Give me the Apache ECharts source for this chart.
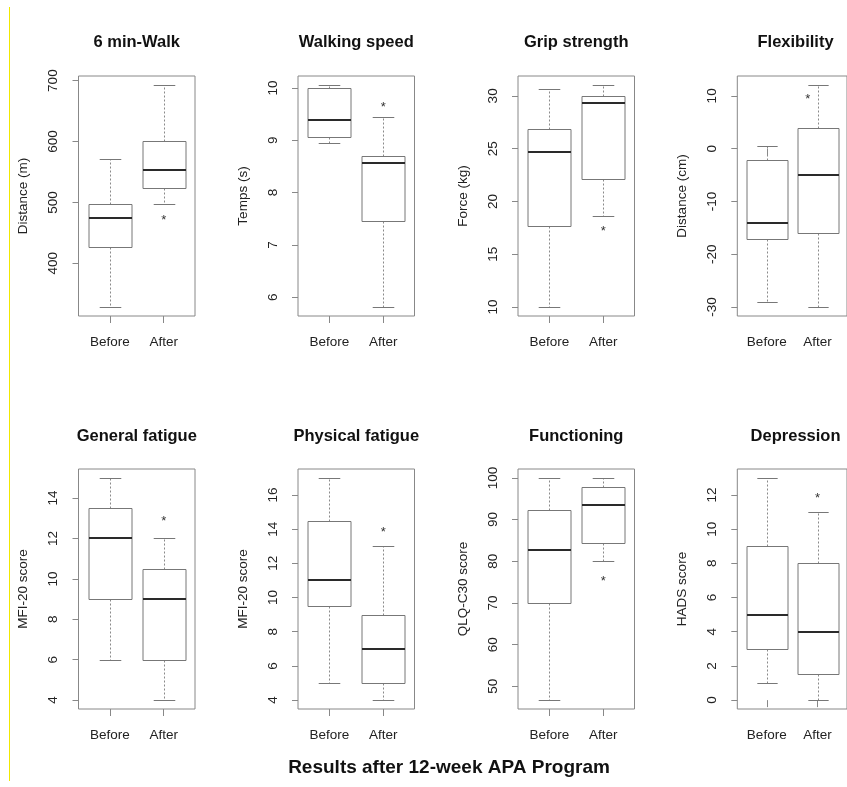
<!DOCTYPE html>
<html>
<head>
<meta charset="utf-8">
<script src="https://cdn.jsdelivr.net/npm/echarts@6/dist/echarts.min.js"></script>
<style>
html,body{margin:0;padding:0;background:#fff;}
#chart{width:847px;height:787px;}
</style>
</head>
<body>
<div id="chart"></div>
<script>
// ---------- data ----------
const categories = ['Before', 'After'];
const panelTitles = ['6 min-Walk', 'Walking speed', 'Grip strength', 'Flexibility',
                     'General fatigue', 'Physical fatigue', 'Functioning', 'Depression'];
const yAxisNames = ['Distance (m)', 'Temps (s)', 'Force (kg)', 'Distance (cm)',
                    'MFI-20 score', 'MFI-20 score', 'QLQ-C30 score', 'HADS score'];
const mainTitle = 'Results after 12-week APA Program';

// box stats: [lower whisker, Q1, median, Q3, upper whisker]
const walkBefore = [328, 427, 474, 498, 571];
const walkAfter = [498, 523.5, 553.6, 601, 693];
const speedBefore = [8.94, 9.07, 9.39, 10.0, 10.06];
const speedAfter = [5.81, 7.45, 8.57, 8.70, 9.45];
const gripBefore = [10, 17.66, 24.67, 26.88, 30.69];
const gripAfter = [18.65, 22.15, 29.34, 30.0, 31.04];
const flexBefore = [-29, -17.1, -14.0, -2.08, 0.5];
const flexAfter = [-30, -16.0, -4.98, 3.98, 12.08];
const genFatBefore = [6, 9, 12, 13.5, 15];
const genFatAfter = [4, 6, 9, 10.5, 12];
const physFatBefore = [5, 9.5, 11, 14.5, 17];
const physFatAfter = [4, 5, 7, 9, 13];
const funcBefore = [46.7, 70, 82.7, 92.2, 100];
const funcAfter = [80, 84.5, 93.4, 97.75, 100];
const deprBefore = [1, 3, 5, 9, 13];
const deprAfter = [0, 1.5, 4, 8, 11];

// outliers: [group (1=Before, 2=After), value]
const walkOutliers = [];
const speedOutliers = [[1, 7.24]];
const gripOutliers = [];
const flexOutliers = [];
const genFatOutliers = [];
const physFatOutliers = [];
const funcOutliers = [];
const deprOutliers = [];

// significance asterisks: [x position, value]
const asterisks = [[2, 475], [2, 9.69], [2, 17.45], [1.81, 9.9],
                   [2, 13], [2, 14], [2, 76], [2, 12]];

// y tick labels
const walkTicks = [400, 500, 600, 700];
const speedTicks = [6, 7, 8, 9, 10];
const gripTicks = [10, 15, 20, 25, 30];
const flexTicks = [-30, -20, -10, 0, 10];
const genFatTicks = [4, 6, 8, 10, 12, 14];
const physFatTicks = [4, 6, 8, 10, 12, 14, 16];
const funcTicks = [50, 60, 70, 80, 90, 100];
const deprTicks = [0, 2, 4, 6, 8, 10, 12];

// ---------- assembly ----------
const boxStats = [[walkBefore, walkAfter], [speedBefore, speedAfter], [gripBefore, gripAfter], [flexBefore, flexAfter],
                  [genFatBefore, genFatAfter], [physFatBefore, physFatAfter], [funcBefore, funcAfter], [deprBefore, deprAfter]];
const outlierSets = [walkOutliers, speedOutliers, gripOutliers, flexOutliers, genFatOutliers, physFatOutliers, funcOutliers, deprOutliers];
const tickSets = [walkTicks, speedTicks, gripTicks, flexTicks, genFatTicks, physFatTicks, funcTicks, deprTicks];

const FONT = "'Liberation Sans', Arial, Helvetica, sans-serif";
const colLefts = [78.5, 298, 518, 737.3];
const rowTops = [76, 469];
const gridW = 116.5, gridH = 240;
const BOX = '#777', FRAME = '#888', WHISK = '#8a8a8a', MED = '#2a2a2a', TXT = '#222';

const grids = [], xAxes = [], yAxes = [], series = [], graphics = [];

for (let i = 0; i < 8; i++) {
  const r = Math.floor(i / 4), c = i % 4;
  const stats = boxStats[i];
  let all = stats[0].concat(stats[1]).concat(outlierSets[i].map(o => o[1]));
  const lo = Math.min.apply(null, all), hi = Math.max.apply(null, all);
  const pad = 0.04 * (hi - lo);
  grids.push({left: colLefts[c], top: rowTops[r], width: gridW, height: gridH,
              show: true, borderColor: FRAME, borderWidth: 1, backgroundColor: 'transparent', containLabel: false});
  xAxes.push({
    type: 'value', gridIndex: i, min: 0.42, max: 2.58,
    splitLine: {show: false}, axisLine: {show: false},
    axisTick: {show: true, customValues: [1, 2], length: 7, lineStyle: {color: FRAME, width: 1}},
    axisLabel: {show: true, customValues: [1, 2], margin: 19,
                formatter: v => categories[Math.round(v) - 1] || '',
                fontFamily: FONT, fontSize: 13.5, color: TXT}
  });
  yAxes.push({
    type: 'value', gridIndex: i, min: lo - pad, max: hi + pad,
    name: yAxisNames[i], nameLocation: 'middle', nameGap: 48, nameRotate: 90,
    nameTextStyle: {fontFamily: FONT, fontSize: 13.5, color: TXT},
    splitLine: {show: false}, axisLine: {show: false},
    axisTick: {show: true, customValues: tickSets[i], length: 6, lineStyle: {color: FRAME, width: 1}},
    axisLabel: {show: true, customValues: tickSets[i], rotate: 90, margin: 18,
                fontFamily: FONT, fontSize: 13.5, color: TXT}
  });
  series.push({
    type: 'custom', xAxisIndex: i, yAxisIndex: i, silent: true,
    data: stats.map((s, k) => [k + 1].concat(s)),
    encode: {x: 0, y: [1, 2, 3, 4, 5]},
    renderItem: function (params, api) {
      const x = api.value(0);
      const v = [1, 2, 3, 4, 5].map(d => api.value(d));
      const p = v.map(val => api.coord([x, val]));
      const w = api.size([0.8, 0])[0];
      const sw = w * 0.5;
      const cx = Math.round(p[0][0]) + 0.5;
      const yy = p.map(pt => Math.round(pt[1]) + 0.5);
      return {type: 'group', children: [
        {type: 'line', shape: {x1: cx, y1: yy[3], x2: cx, y2: yy[4]}, style: {stroke: WHISK, lineWidth: 1, lineDash: [2, 2]}},
        {type: 'line', shape: {x1: cx, y1: yy[1], x2: cx, y2: yy[0]}, style: {stroke: WHISK, lineWidth: 1, lineDash: [2, 2]}},
        {type: 'line', shape: {x1: cx - sw / 2, y1: yy[4], x2: cx + sw / 2, y2: yy[4]}, style: {stroke: BOX, lineWidth: 1}},
        {type: 'line', shape: {x1: cx - sw / 2, y1: yy[0], x2: cx + sw / 2, y2: yy[0]}, style: {stroke: BOX, lineWidth: 1}},
        {type: 'rect', shape: {x: Math.round(cx - w / 2), y: yy[3], width: Math.round(w), height: yy[1] - yy[3]},
         style: {fill: '#fff', stroke: BOX, lineWidth: 1}},
        {type: 'line', shape: {x1: Math.round(cx - w / 2), y1: Math.round(p[2][1]), x2: Math.round(cx - w / 2) + Math.round(w), y2: Math.round(p[2][1])},
         style: {stroke: MED, lineWidth: 2}}
      ]};
    }
  });
  if (outlierSets[i].length) {
    series.push({
      type: 'scatter', xAxisIndex: i, yAxisIndex: i, silent: true,
      data: outlierSets[i], symbol: 'emptyCircle', symbolSize: 5,
      itemStyle: {color: '#fff', borderColor: BOX, borderWidth: 1}
    });
  }
  series.push({
    type: 'custom', xAxisIndex: i, yAxisIndex: i, silent: true,
    data: [asterisks[i]],
    renderItem: function (params, api) {
      const pt = api.coord([api.value(0), api.value(1)]);
      return {type: 'text', x: pt[0], y: pt[1] + 3,
              style: {text: '*', textAlign: 'center', textVerticalAlign: 'middle',
                      font: '13px ' + FONT, fill: '#333'}};
    }
  });
  graphics.push({type: 'text', x: colLefts[c] + gridW / 2, y: r === 0 ? 42 : 436,
                 style: {text: panelTitles[i], textAlign: 'center', textVerticalAlign: 'middle',
                         font: 'bold 16.5px ' + FONT, fill: '#111'}});
}

graphics.push({type: 'text', x: 449, y: 768,
               style: {text: mainTitle, textAlign: 'center', textVerticalAlign: 'middle',
                       font: 'bold 19px ' + FONT, fill: '#111'}});
graphics.push({type: 'line', shape: {x1: 9.5, y1: 7, x2: 9.5, y2: 781}, style: {stroke: '#f0e800', lineWidth: 1}});

const chart = echarts.init(document.getElementById('chart'), null, {renderer: 'canvas'});
chart.setOption({
  animation: false,
  backgroundColor: '#fff',
  grid: grids, xAxis: xAxes, yAxis: yAxes, series: series,
  graphic: graphics
});
</script>
</body>
</html>
